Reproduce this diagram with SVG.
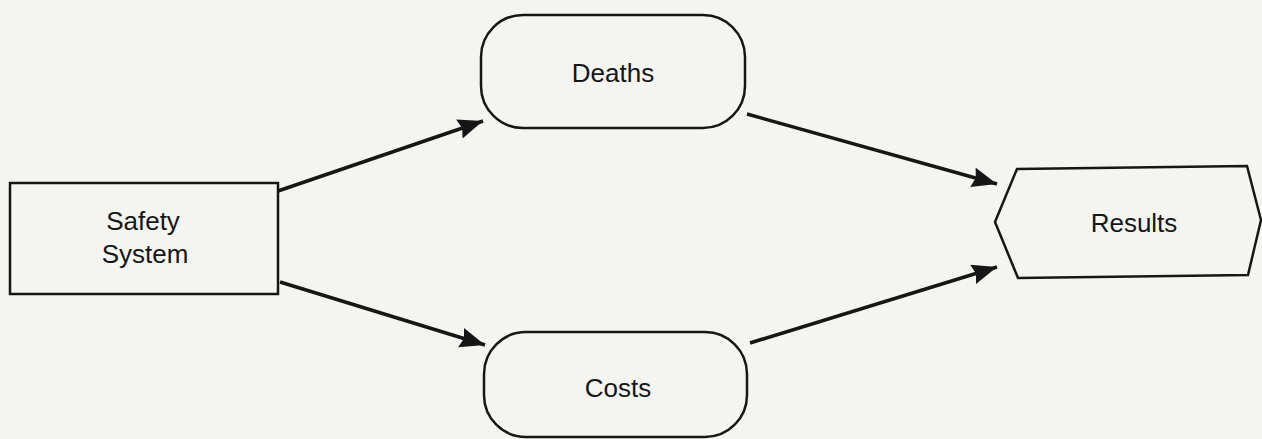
<svg xmlns="http://www.w3.org/2000/svg" width="1262" height="439" viewBox="0 0 1262 439">
<defs>
<style>
.shape{fill:none;stroke:#161616;stroke-width:2.5}
.lbl{font-family:"Liberation Sans",Arial,sans-serif;font-size:26px;fill:#161616;text-anchor:middle}
.conn{stroke:#161616;stroke-width:3.5;fill:none}
</style>
<marker id="ah" markerUnits="userSpaceOnUse" markerWidth="28" markerHeight="22" refX="25" refY="10" orient="auto">
<path d="M0,0 L25,10 L0,20 L3,10 z" fill="#161616"/>
</marker>
</defs>
<rect width="1262" height="439" fill="#f4f4f1"/>
<g id="connectors">
<line class="conn" x1="278" y1="191" x2="483" y2="121" marker-end="url(#ah)"/>
<line class="conn" x1="280" y1="282" x2="485" y2="345" marker-end="url(#ah)"/>
<line class="conn" x1="747" y1="114" x2="997" y2="184" marker-end="url(#ah)"/>
<line class="conn" x1="750" y1="343" x2="997" y2="267" marker-end="url(#ah)"/>
</g>
<g id="safety">
<rect class="shape" x="10" y="183" width="268" height="111"/>
<text class="lbl" x="143" y="230" font-size="27">Safety</text>
<text class="lbl" x="145" y="263" font-size="27">System</text>
</g>
<g id="deaths">
<rect class="shape" x="481" y="15" width="264" height="113" rx="42" ry="42"/>
<text class="lbl" x="613" y="82">Deaths</text>
</g>
<g id="costs">
<rect class="shape" x="484" y="332" width="263" height="105" rx="42" ry="42"/>
<text class="lbl" x="618" y="397">Costs</text>
</g>
<g id="results">
<polygon class="shape" points="995,222 1017,169 1247,166 1261,220 1248,275 1018,278"/>
<text class="lbl" x="1134" y="232">Results</text>
</g>
</svg>
